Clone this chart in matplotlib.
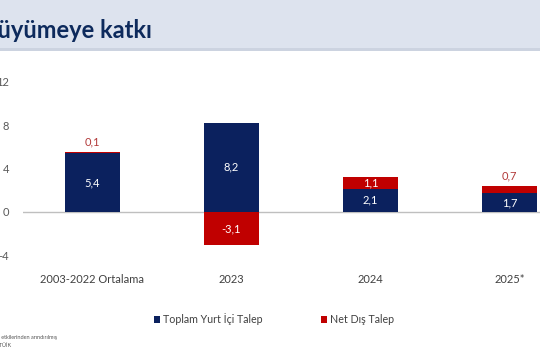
import matplotlib
matplotlib.use("Agg")
import matplotlib.pyplot as plt
from matplotlib.patches import Patch, Rectangle

categories = ["2003-2022 Ortalama", "2023", "2024", "2025*"]
domestic = [5.4, 8.2, 2.1, 1.7]
net_external = [0.1, -3.1, 1.1, 0.7]
series_names = ["Toplam Yurt İçi Talep", "Net Dış Talep"]
yticks = [-4, 0, 4, 8, 12]

NAVY = "#0b215e"
RED = "#c00000"
FONT = ["Lato", "DejaVu Sans"]
plt.rcParams["font.family"] = FONT

W, H = 540, 360
fig = plt.figure(figsize=(W / 100, H / 100), dpi=100)
fig.patch.set_facecolor("white")

# header band
fig.patches.append(Rectangle((0, 1 - 48 / H), 1, 48 / H, transform=fig.transFigure,
                             facecolor="#dde3ee", edgecolor="none", zorder=0))
fig.patches.append(Rectangle((0, 1 - 51 / H), 1, 3 / H, transform=fig.transFigure,
                             facecolor="#ccd3e0", edgecolor="none", zorder=0))
fig.text(152 / W, 1 - 30 / H, "Büyümeye katkı", ha="right", va="center",
         fontsize=17, fontweight="bold", color="#0d2a5c")

ax = fig.add_axes([23 / W, 1 - 255 / H, 556 / W, 173 / H])
ax.set_xlim(-0.5, 3.5)
ax.set_ylim(-4, 12)
x = list(range(len(categories)))
bw = 0.4
ax.bar(x, domestic, width=bw, color=NAVY, zorder=2)
bottoms = [d if n > 0 else 0 for d, n in zip(domestic, net_external)]
ax.bar(x, net_external, width=bw, bottom=bottoms, color=RED, zorder=2)

for i, (d, n) in enumerate(zip(domestic, net_external)):
    ax.text(i, d / 2, f"{d:.1f}".replace(".", ","), ha="center", va="center",
            color="white", fontsize=8, zorder=3)
    lab = f"{n:.1f}".replace(".", ",")
    if abs(n) >= 1:
        y = (bottoms[i] + n / 2)
        ax.text(i, y, lab, ha="center", va="center", color="white", fontsize=8, zorder=3)
    else:
        ax.text(i, bottoms[i] + n + 0.45, lab, ha="center", va="bottom",
                color="#b23a3a", fontsize=8, zorder=3)

ax.axhline(0, color="#bfbfbf", lw=1, zorder=1)
for s in ax.spines.values():
    s.set_visible(False)
ax.set_yticks(yticks)
ax.set_yticklabels([str(t) for t in yticks])
ax.tick_params(axis="y", length=0, pad=10, labelsize=8, labelcolor="#595959")
ax.set_xticks(x)
ax.set_xticklabels(categories)
ax.tick_params(axis="x", length=0, pad=14, labelsize=8, labelcolor="#404040")
ax.patch.set_alpha(0)

handles = [Patch(facecolor=NAVY), Patch(facecolor=RED)]
fig.legend(handles, series_names, loc="center", bbox_to_anchor=(274 / W, 1 - 319 / H),
           ncol=2, frameon=False, fontsize=7.7, handlelength=0.6, handleheight=0.6,
           handletextpad=0.3, columnspacing=5.4, labelcolor="#404040")

fig.text(57 / W, 1 - 337 / H, "mevsim ve takvim etkilerinden arındırılmış", ha="right",
         va="center", fontsize=4, color="#555555")
fig.text(11 / W, 1 - 345 / H, "Kaynak: TÜİK", ha="right", va="center",
         fontsize=4, color="#555555")

fig.savefig("out.png", dpi=100)
